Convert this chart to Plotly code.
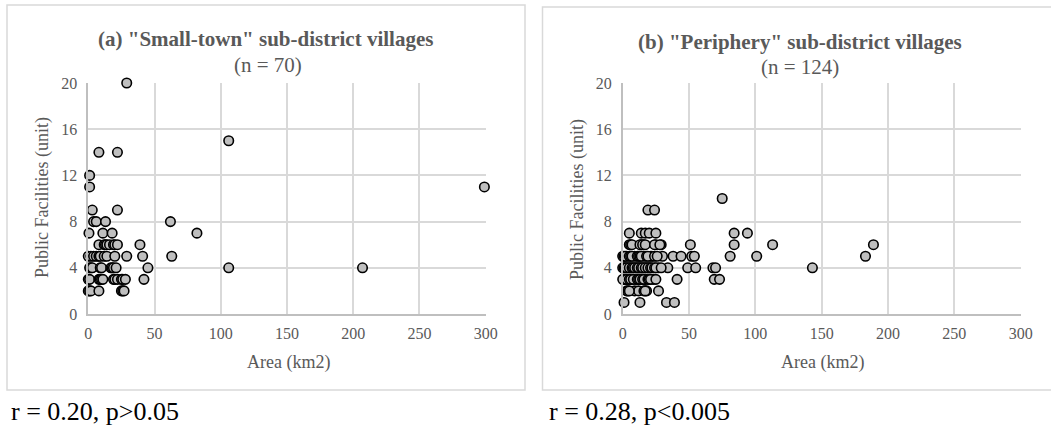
import plotly.graph_objects as go

# Panel (a): "Small-town" sub-district villages (n = 70)
a_area = [29, 106, 8, 22, 1, 1, 299, 3, 22,
          4, 6, 13, 62,
          0.5, 11, 18, 82,
          8, 12, 13, 14, 16, 19, 20, 22, 39,
          0, 2, 4, 6, 8, 9, 12, 14, 20, 29, 41, 63,
          1, 2, 3, 9, 10, 17, 18, 19, 21, 45, 106, 207,
          0, 1, 8, 9, 10, 11, 19, 20, 22, 25, 26, 28, 42,
          0, 1, 2, 8, 25, 26, 27]
a_fac = [20, 15, 14, 14, 12, 11, 11, 9, 9,
         8, 8, 8, 8,
         7, 7, 7, 7,
         6, 6, 6, 6, 6, 6, 6, 6, 6,
         5, 5, 5, 5, 5, 5, 5, 5, 5, 5, 5, 5,
         4, 4, 4, 4, 4, 4, 4, 4, 4, 4, 4, 4,
         3, 3, 3, 3, 3, 3, 3, 3, 3, 3, 3, 3, 3,
         2, 2, 2, 2, 2, 2, 2]

# Panel (b): "Periphery" sub-district villages (n = 124)
b_area = [75, 19, 24,
          5, 14, 17, 20, 25, 84, 94,
          5, 6, 14, 16, 25, 29, 51, 84, 113, 189, 7, 13, 15, 17, 24, 28,
          3, 9, 16, 21, 22, 30, 38, 44, 52, 54, 81, 101, 183,
          0, 1, 2, 5, 6, 7, 11, 12, 13, 14, 18, 19, 24, 26,
          0, 1, 2, 4, 6, 10, 13, 16, 18, 20, 27, 34, 49, 55, 68, 70, 143,
          3, 5, 7, 8, 9, 11, 12, 14, 15, 17, 19, 21, 22, 24, 25, 29,
          1, 2, 4, 7, 10, 14, 17, 23, 41, 69, 73,
          0, 3, 5, 6, 8, 11, 12, 13, 15, 16, 19, 20, 21, 25,
          3, 4, 9, 12, 16, 18, 27, 5, 17,
          1, 13, 33, 39]
b_fac = [10, 9, 9,
         7, 7, 7, 7, 7, 7, 7,
         6, 6, 6, 6, 6, 6, 6, 6, 6, 6, 6, 6, 6, 6, 6, 6,
         5, 5, 5, 5, 5, 5, 5, 5, 5, 5, 5, 5, 5,
         5, 5, 5, 5, 5, 5, 5, 5, 5, 5, 5, 5, 5, 5,
         4, 4, 4, 4, 4, 4, 4, 4, 4, 4, 4, 4, 4, 4, 4, 4, 4,
         4, 4, 4, 4, 4, 4, 4, 4, 4, 4, 4, 4, 4, 4, 4, 4,
         3, 3, 3, 3, 3, 3, 3, 3, 3, 3, 3,
         3, 3, 3, 3, 3, 3, 3, 3, 3, 3, 3, 3, 3, 3,
         2, 2, 2, 2, 2, 2, 2, 2, 2,
         1, 1, 1, 1]

x_ticks = [0, 50, 100, 150, 200, 250, 300]
y_ticks = [0, 4, 8, 12, 16, 20]

FONT = "Liberation Serif, Times New Roman, serif"
GRAY = "#595959"
GRID = "#d9d9d9"

W, H = 1051, 428

def px(x):
    return x / W

def py(y):
    return 1 - y / H

marker = dict(size=9.5, color="#bfbfbf", line=dict(color="black", width=1.6))

fig = go.Figure()
fig.add_trace(go.Scatter(x=a_area, y=a_fac, mode="markers", marker=marker,
                         xaxis="x", yaxis="y", cliponaxis=False, showlegend=False))
fig.add_trace(go.Scatter(x=b_area, y=b_fac, mode="markers", marker=marker,
                         xaxis="x2", yaxis="y2", cliponaxis=False, showlegend=False))

ax_common = dict(range=[0, 300], tickvals=x_ticks, showgrid=True, gridcolor=GRID,
                 gridwidth=1.5, showline=True, linecolor="#bfbfbf", linewidth=1.5,
                 zeroline=False, ticks="", fixedrange=True, ticklabelstandoff=4,
                 tickfont=dict(family=FONT, size=16, color=GRAY))
ay_common = dict(range=[0, 20], tickvals=y_ticks, showgrid=True, gridcolor=GRID,
                 gridwidth=1.5, showline=True, linecolor="#bfbfbf", linewidth=1.5,
                 zeroline=False, ticks="", fixedrange=True, ticklabelstandoff=6,
                 tickfont=dict(family=FONT, size=16, color=GRAY))

ydom = [py(314), py(83)]
fig.update_layout(
    width=W, height=H,
    margin=dict(l=0, r=0, t=0, b=0, autoexpand=False),
    paper_bgcolor="white", plot_bgcolor="white",
    font=dict(family=FONT),
    xaxis=dict(domain=[px(88.3), px(485.7)], anchor="y", **ax_common),
    yaxis=dict(domain=ydom, anchor="x", **ay_common),
    xaxis2=dict(domain=[px(622.7), px(1020.7)], anchor="y2", **ax_common),
    yaxis2=dict(domain=ydom, anchor="x2", **ay_common),
)

# panel boxes
fig.add_shape(type="rect", xref="paper", yref="paper",
              x0=px(7), x1=px(525), y0=py(390), y1=py(5),
              line=dict(color=GRID, width=1.5), layer="below")
fig.add_shape(type="rect", xref="paper", yref="paper",
              x0=px(542.5), x1=px(1060), y0=py(390), y1=py(7),
              line=dict(color=GRID, width=1.5), layer="below")

def ann(text, x, y, size, color=GRAY, angle=0, xanchor="center", yanchor="middle"):
    fig.add_annotation(text=text, x=px(x), y=py(y), xref="paper", yref="paper",
                       showarrow=False, textangle=angle, xanchor=xanchor, yanchor=yanchor,
                       font=dict(family=FONT, size=size, color=color))

ann('<b>(a) "Small-town" sub-district villages</b>', 265, 39, 21)
ann('(n = 70)', 268, 65, 21)
ann('<b>(b) "Periphery" sub-district villages</b>', 800, 42, 21)
ann('(n = 124)', 800, 67, 21)

ann('Public Facilities (unit)', 42, 198, 18, angle=-90)
ann('Public Facilities (unit)', 577, 200, 18, angle=-90)
ann('Area (km2)', 288, 362, 18)
ann('Area (km2)', 822, 362, 18)

ann('r = 0.20, p&gt;0.05', 9, 428, 26, color="black", xanchor="left", yanchor="bottom")
ann('r = 0.28, p&lt;0.005', 547, 428, 26, color="black", xanchor="left", yanchor="bottom")

post = """
document.documentElement.style.margin = '0';
document.documentElement.style.overflow = 'hidden';
document.body.style.margin = '0';
document.body.style.overflow = 'hidden';
"""

fig.write_html("out.html", config={"displayModeBar": False}, post_script=post)
